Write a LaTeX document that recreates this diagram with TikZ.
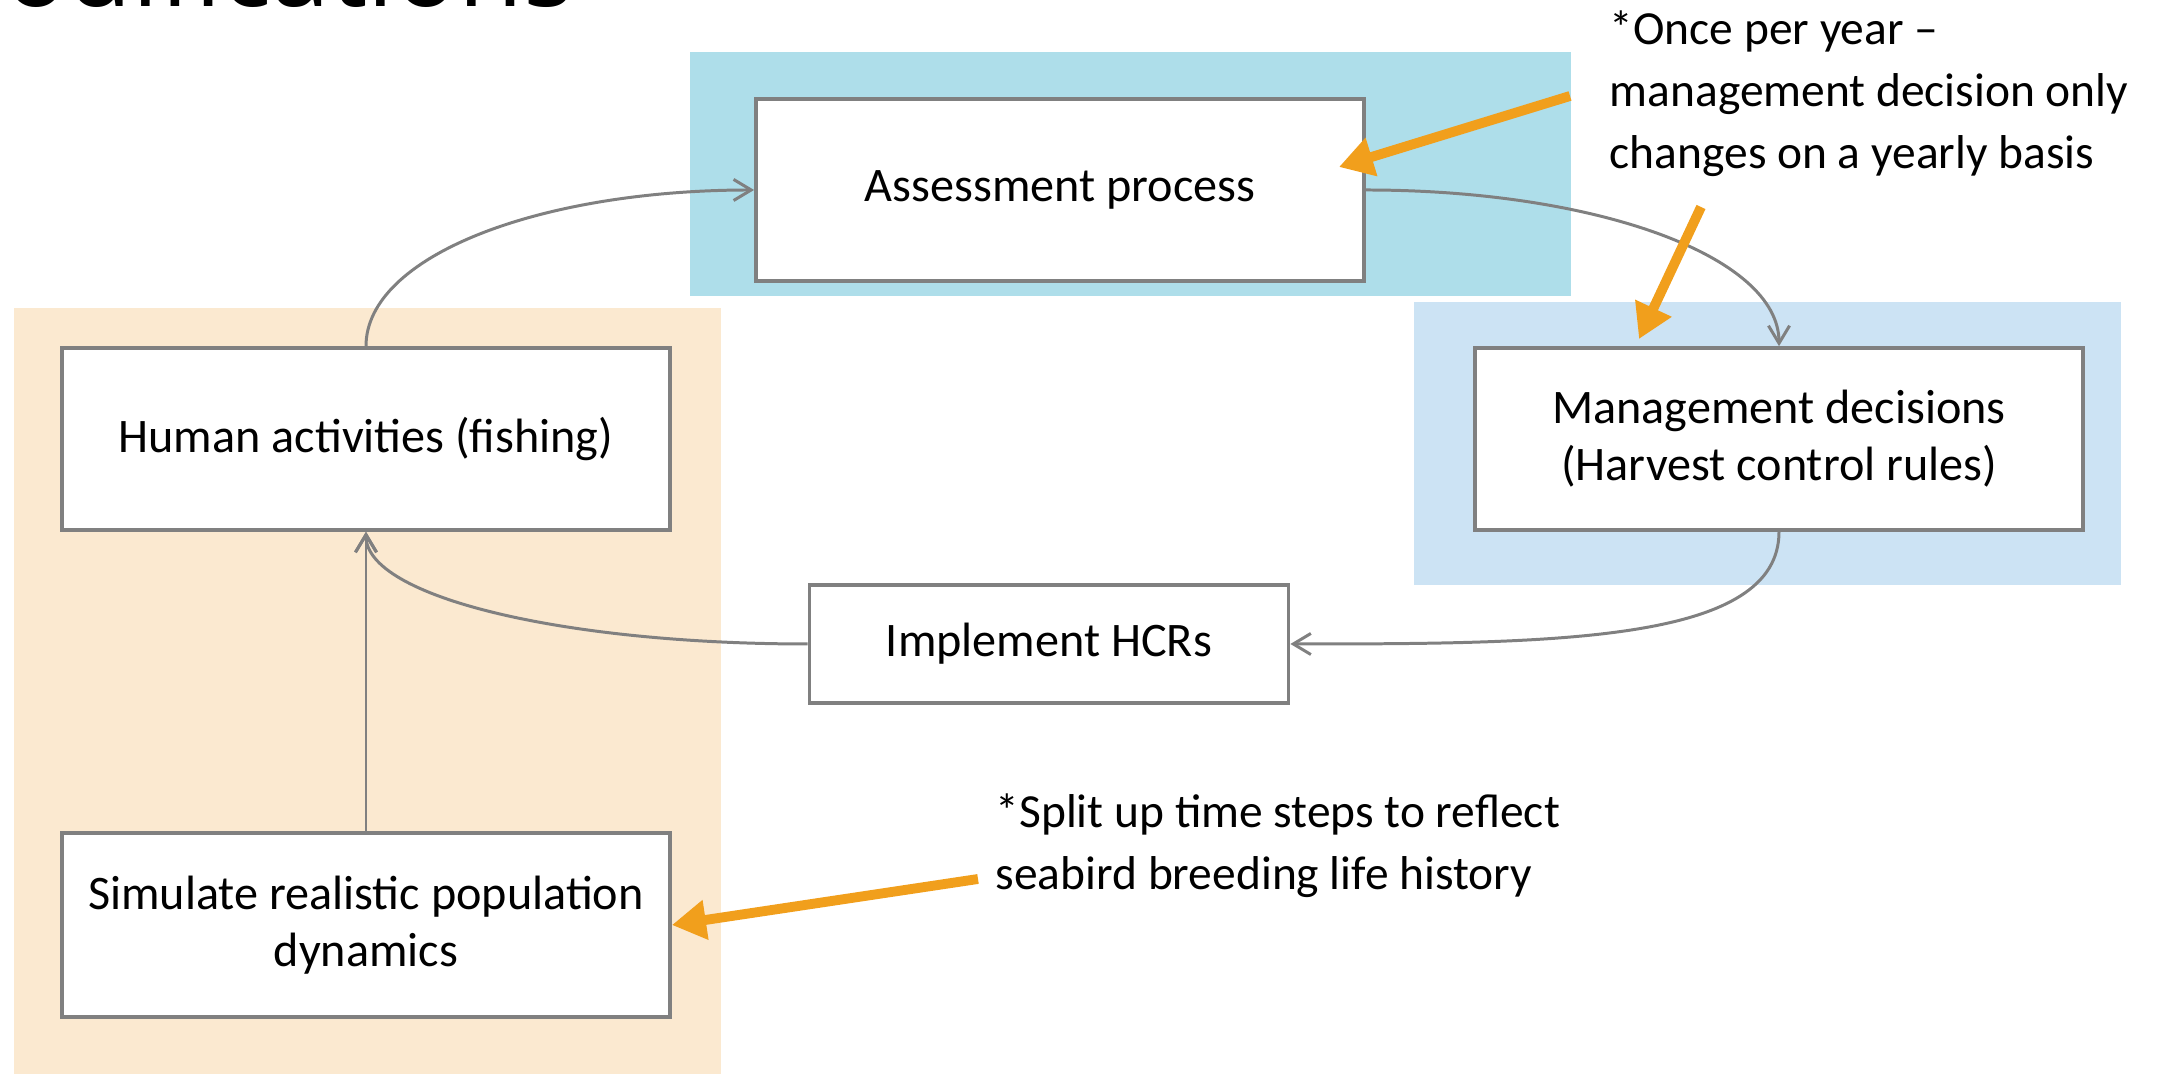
\documentclass[tikz,border=0pt]{standalone}
\usepackage{fontspec}
\setmainfont{Carlito}
\newfontfamily\titlefont{Open Sans}
\usetikzlibrary{arrows.meta}
\definecolor{peach}{HTML}{FBE9D0}
\definecolor{blueA}{HTML}{AEDEEA}
\definecolor{blueB}{HTML}{CCE3F4}
\definecolor{linegray}{HTML}{808080}
\definecolor{pointorange}{HTML}{F19F1C}
\newcommand{\boxfont}{\fontsize{13.7}{16.2}\selectfont}
\newcommand{\notefont}{\fontsize{13.5}{17.6}\selectfont}

\begin{document}
\begin{tikzpicture}[x=0.01cm,y=0.01cm,
		box/.style={draw=linegray,fill=white,line width=1pt,minimum width=6.08cm,minimum height=1.82cm,align=center,inner sep=0pt,font=\boxfont},
		link/.style={draw=linegray,line width=0.85pt,-{Straight Barb[length=5pt,width=6pt]}},
		pointer/.style={draw=pointorange,line width=2.8pt,-{Triangle[length=0.34cm,width=0.38cm]}},
		note/.style={align=left,anchor=north west,inner sep=0pt,font=\notefont}]
	\useasboundingbox (0,0) rectangle (2160,1076);
	\clip (0,0) rectangle (2160,1076);
	\node[anchor=base east,inner sep=0pt,font=\titlefont\fontsize{30}{36}\selectfont] at (574,1069) (title) {Modifications};
	\fill[peach] (14,2) rectangle (721,768);
	\fill[blueA] (690,780) rectangle (1571,1024);
	\fill[blueB] (1414,491) rectangle (2121,774);
	\node[box] at (1060,886) (assess) {Assessment process};
	\node[box] at (1779,637) (manage) {Management decisions\\(Harvest control rules)};
	\node[box] at (366,637) (human) {Human activities (fishing)};
	\node[box,minimum width=4.79cm,minimum height=1.18cm] at (1049,432) (implement) {Implement HCRs};
	\node[box,minimum height=1.84cm] at (366,151) (simulate) {Simulate realistic population\\dynamics};
	\draw[link] (human.north) .. controls +(0,90) and +(-215,0) .. (assess.west);
	\draw[link] (assess.east) .. controls +(230,0) and +(0,90) .. (manage.north);
	\draw[link] (manage.south) .. controls +(0,-110) and +(270,0) .. (implement.east);
	\draw[link] (implement.west) .. controls +(-245,0) and +(0,-65) .. (human.south);
	\draw[link] (simulate.north) -- (human.south);
	\node[note] at (1609,1066) (yearly) {*Once per year --\\management decision only\\changes on a yearly basis};
	\node[note] at (995,283) (breeding) {*Split up time steps to reflect\\seabird breeding life history};
	\coordinate (y1) at (1570,980);
	\coordinate (y1tip) at (1339,909);
	\coordinate (y2) at (1701,869);
	\coordinate (y2tip) at (1639,737);
	\coordinate (b1) at (978,197);
	\draw[pointer] (y1) -- (y1tip);
	\draw[pointer] (y2) -- (y2tip);
	\draw[pointer] (b1) -- (simulate.east);
\end{tikzpicture}
\end{document}
